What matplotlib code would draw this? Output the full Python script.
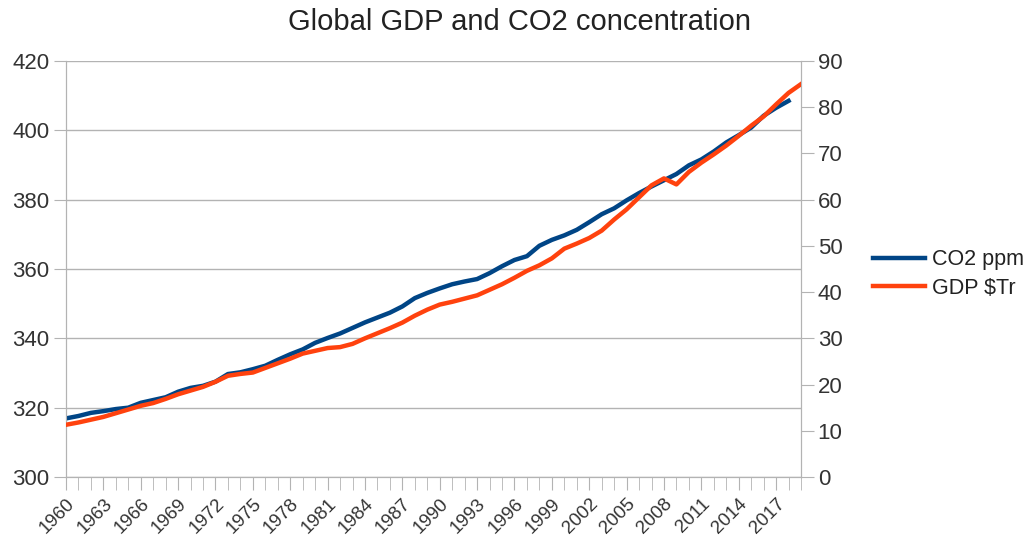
import matplotlib
matplotlib.use("Agg")
import matplotlib.pyplot as plt
from matplotlib.ticker import MultipleLocator, FixedLocator
import numpy as np

plt.rcParams['font.family'] = ['Liberation Sans', 'DejaVu Sans']

years = list(range(1960, 2020))
co2_ppm = [316.9, 317.6, 318.5, 319.0, 319.6, 320.0, 321.4, 322.2, 323.0, 324.6,
           325.7, 326.3, 327.5, 329.7, 330.2, 331.1, 332.1, 333.8, 335.4, 336.8,
           338.7, 340.1, 341.4, 343.0, 344.6, 346.0, 347.4, 349.2, 351.6, 353.1,
           354.4, 355.6, 356.4, 357.1, 358.8, 360.8, 362.6, 363.7, 366.7, 368.4,
           369.7, 371.3, 373.5, 375.8, 377.5, 379.8, 381.9, 383.8, 385.6, 387.4,
           389.9, 391.6, 393.9, 396.5, 398.6, 400.8, 404.2, 406.5, 408.5]
gdp_tr = [11.3, 11.8, 12.4, 13.0, 13.8, 14.6, 15.4, 16.0, 16.9, 17.9,
          18.7, 19.5, 20.6, 21.9, 22.3, 22.6, 23.6, 24.6, 25.6, 26.7,
          27.3, 27.9, 28.1, 28.8, 30.0, 31.1, 32.2, 33.4, 34.9, 36.2,
          37.3, 37.9, 38.6, 39.3, 40.5, 41.7, 43.1, 44.6, 45.8, 47.3,
          49.4, 50.5, 51.7, 53.3, 55.7, 57.9, 60.5, 63.1, 64.6, 63.3,
          66.0, 68.0, 69.8, 71.7, 73.8, 76.0, 78.0, 80.6, 83.1, 85.0]

co2_color = '#004586'
gdp_color = '#ff420e'
grid_color = '#b3b3b3'
text_color = '#333333'

fig = plt.figure(figsize=(10.28, 5.41), dpi=100)
ax = fig.add_axes([66/1028, 1-477/541, (801-66)/1028, (477-61)/541])
ax2 = ax.twinx()

x_co2 = np.arange(len(co2_ppm))
x_gdp = np.arange(len(gdp_tr))
l1, = ax.plot(x_co2, co2_ppm, color=co2_color, lw=3.2, solid_joinstyle='round', zorder=3)
l2, = ax2.plot(x_gdp, gdp_tr, color=gdp_color, lw=3.2, solid_joinstyle='round', zorder=4)

ax.set_xlim(0, len(years) - 1)
ax.set_ylim(300, 420)
ax2.set_ylim(0, 90)
ax.yaxis.set_major_locator(MultipleLocator(20))
ax2.yaxis.set_major_locator(MultipleLocator(10))

ax.grid(axis='y', color=grid_color, lw=1.0)
ax.set_axisbelow(True)

ax.xaxis.set_major_locator(FixedLocator(list(range(0, len(years), 3))))
ax.xaxis.set_minor_locator(MultipleLocator(1))
ax.set_xticklabels([str(y) for y in years[::3]], rotation=45, ha='right',
                   rotation_mode='anchor', fontsize=13.5, color=text_color)

for a in (ax, ax2):
    for s in a.spines.values():
        s.set_color(grid_color)
    a.spines['top'].set_visible(False)

ax.tick_params(axis='y', length=9, color=grid_color, labelsize=16, labelcolor=text_color, pad=3)
ax2.tick_params(axis='y', length=9, color=grid_color, labelsize=16, labelcolor=text_color, pad=3)
ax.tick_params(axis='x', which='both', length=9, color=grid_color, pad=4)

fig.text(520/1028, 1-22/541, 'Global GDP and CO2 concentration', ha='center', va='center',
         fontsize=21, color='#222222')

leg = fig.legend([l1, l2], ['CO2 ppm', 'GDP $Tr'], loc='center left',
                 bbox_to_anchor=(873/1028, 1-274/541), frameon=False, fontsize=15.5,
                 handlelength=2.4, handletextpad=0.33, labelspacing=0.35, borderpad=0,
                 borderaxespad=0)
for t in leg.get_texts():
    t.set_color('#222222')

fig.savefig('out.png', dpi=100)
